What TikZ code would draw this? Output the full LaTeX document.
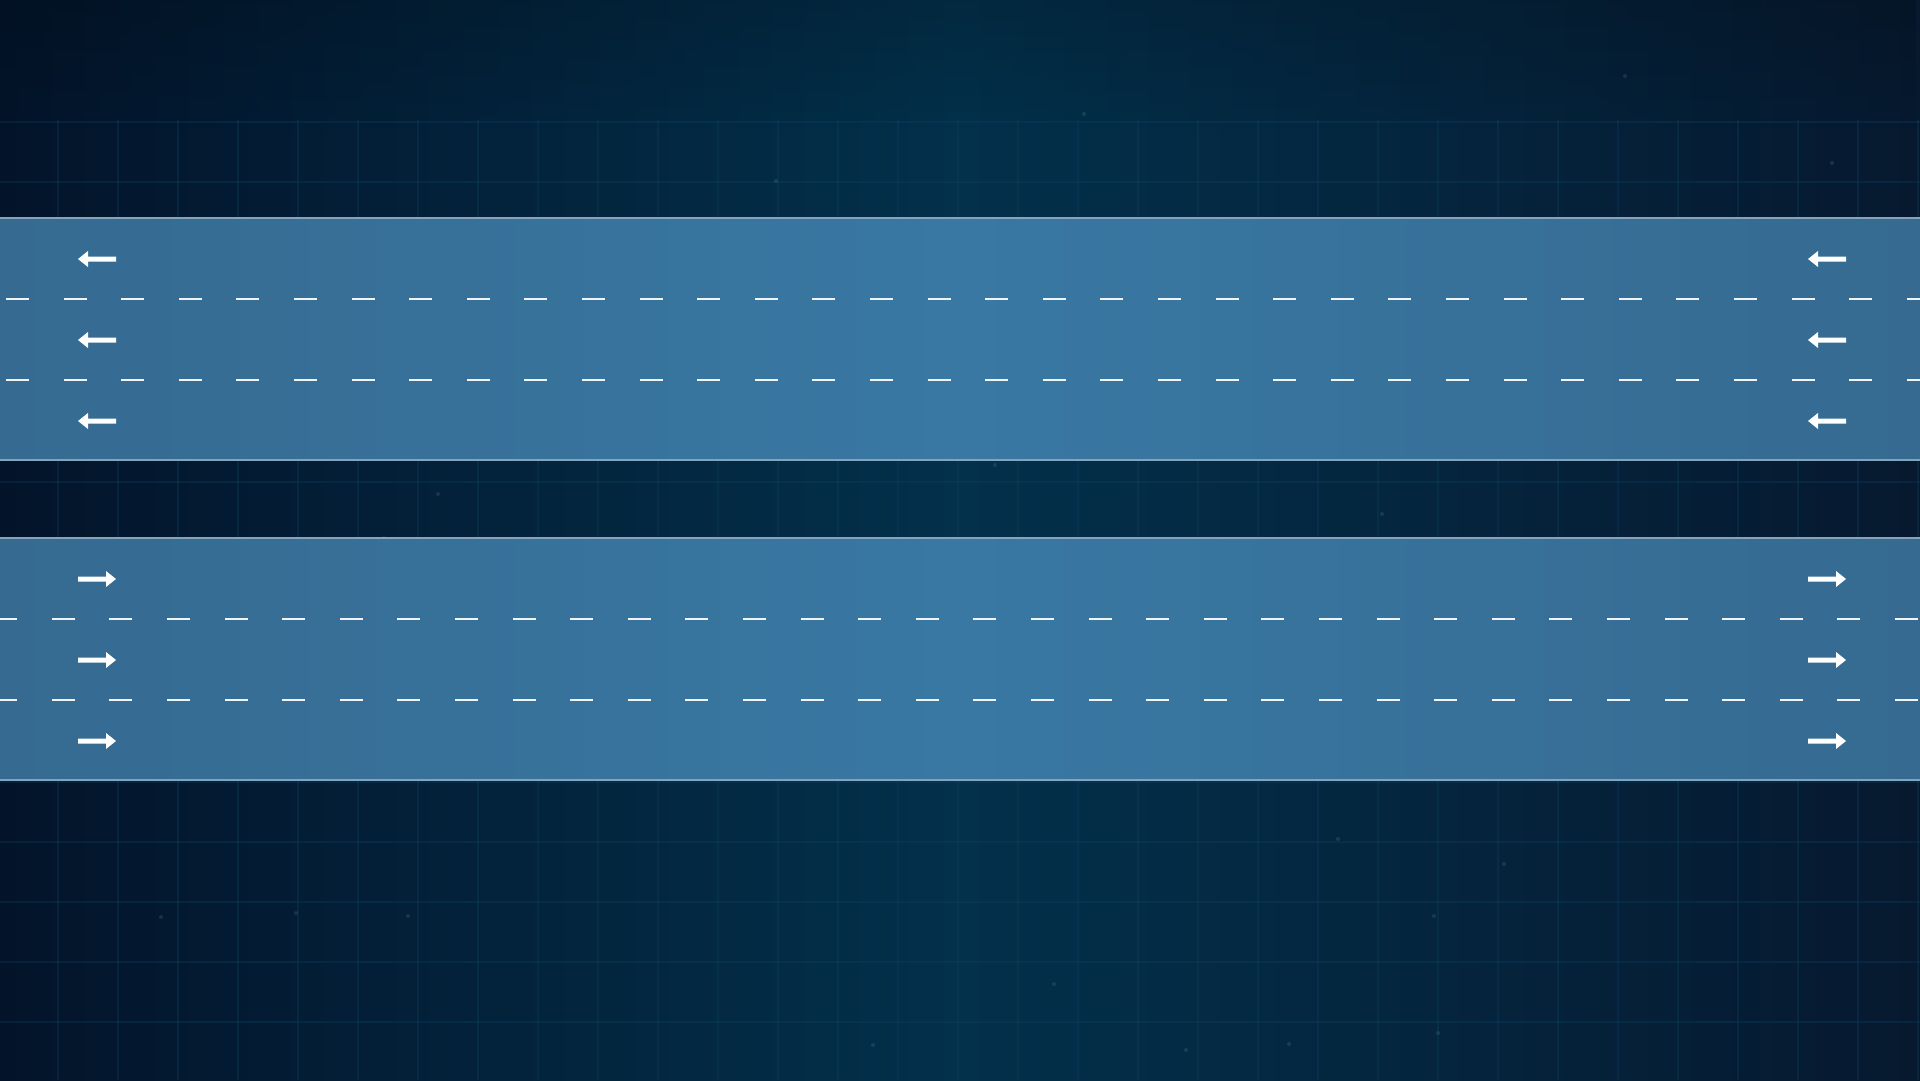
\documentclass[tikz,border=0pt]{standalone}
\usetikzlibrary{calc,fadings}
\definecolor{bgedge}{HTML}{03142A}
\definecolor{bgmid}{HTML}{03304B}
\definecolor{bgright}{HTML}{06192F}
\definecolor{roadside}{HTML}{366A91}
\definecolor{roadmid}{HTML}{3878A3}
\definecolor{roadedge}{HTML}{86A3BC}
\definecolor{gridc}{HTML}{0E4463}
\tikzset{
  gridline/.style={draw=gridc, line width=2pt, opacity=0.3},
  roadfill/.style={left color=roadside, right color=roadside, middle color=roadmid},
  roadborder/.style={draw=roadedge, line width=1.5pt},
  lanemark/.style={draw=white!92!roadmid, line width=2pt, line cap=butt, dash pattern=on 23pt off 34.6pt},
  arrowshape/.style={fill=white, draw=none},
}
\newcommand{\leftarrowat}[2]{%
  \fill[arrowshape] (#1,#2) -- (#1+10,#2-8) -- (#1+10,#2-2.5) -- (#1+38,#2-2.5) -- (#1+38,#2+2.5) -- (#1+10,#2+2.5) -- (#1+10,#2+8) -- cycle;}
\newcommand{\rightarrowat}[2]{%
  \fill[arrowshape] (#1,#2) -- (#1-10,#2-8) -- (#1-10,#2-2.5) -- (#1-38,#2-2.5) -- (#1-38,#2+2.5) -- (#1-10,#2+2.5) -- (#1-10,#2+8) -- cycle;}
\begin{document}
\begin{tikzpicture}[x=1pt,y=-1pt]
\useasboundingbox (0,0) rectangle (1920,1080);
% background
\shade[left color=bgedge, right color=bgright, middle color=bgmid] (0,0) rectangle (1920,1080);
\fill[black, opacity=0.15, path fading=south] (0,0) rectangle (1920,130);
% grid
\foreach \gx in {-2,58,...,1920} { \draw[gridline] (\gx,120) -- (\gx,1080); }
\foreach \gy in {122,182,...,1080} { \draw[gridline] (0,\gy) -- (1920,\gy); }
% faint particles
\foreach \px/\py in {1084/114,776/181,438/494,384/538,1382/514,1470/458,408/916,1434/916,161/917,296/913,1186/1050,1289/1044,1438/1033,1832/163,1625/76,873/1045,1054/984,1338/839,1504/864,995/465}
  { \fill[gridc!70!white, opacity=0.25] (\px,\py) circle (2pt); }
% road 1 (westbound)
\shade[roadfill] (0,218) rectangle (1920,460);
\draw[roadborder] (0,218) -- (1920,218);
\draw[roadborder] (0,460) -- (1920,460);
\draw[lanemark] (6,299) -- (1920,299);
\draw[lanemark] (6,380) -- (1920,380);
\foreach \ay in {259,340,421} { \leftarrowat{78}{\ay} \leftarrowat{1808}{\ay} }
% road 2 (eastbound)
\shade[roadfill] (0,538) rectangle (1920,780);
\draw[roadborder] (0,538) -- (1920,538);
\draw[roadborder] (0,780) -- (1920,780);
\begin{scope}
\clip (0,538) rectangle (1920,780);
\draw[lanemark] (-5.9,619) -- (1930,619);
\draw[lanemark] (-5.9,700) -- (1930,700);
\end{scope}
\foreach \ay in {579,660,741} { \rightarrowat{116}{\ay} \rightarrowat{1846}{\ay} }
\end{tikzpicture}
\end{document}
